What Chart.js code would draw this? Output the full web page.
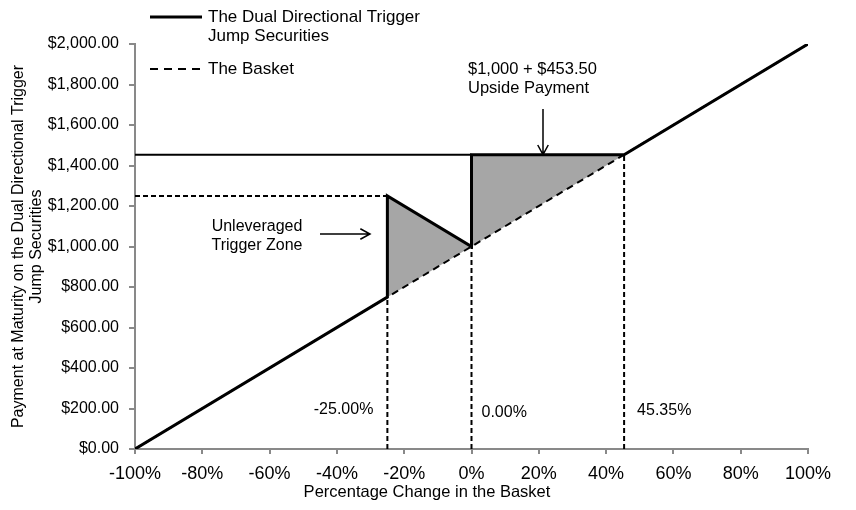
<!DOCTYPE html>
<html>
<head>
<meta charset="utf-8">
<script src="https://cdn.jsdelivr.net/npm/chart.js@4.4.1/dist/chart.umd.min.js"></script>
<style>
  html, body { margin: 0; padding: 0; background: #fff; overflow: hidden; }
  #chartPayoff { display: block; }
</style>
</head>
<body>
<canvas id="chartPayoff" width="856" height="510"></canvas>
<script>
// Datos del grafico
const cambioPct = [-100, -25, -25, 0, 0, 45.35, 100];
const pagoNota = [0, 750, 1250, 1000, 1453.5, 1453.5, 2000];

const canastaPct = [-100, 100];
const canastaPago = [0, 2000];

const zonaTriggerPct = [-25, -25, 0];
const zonaTriggerPago = [750, 1250, 1000];

const zonaUpsidePct = [0, 0, 45.35];
const zonaUpsidePago = [1000, 1453.5, 1453.5];

const nivelTope = 1453.5;
const nivelTrigger = 1250;

const marcasPct = [-25, 0, 45.35];
const marcasPago = [750, 1000, 1453.5];
const marcasEtiquetas = ['-25.00%', '0.00%', '45.35%'];

const ticksX = [-100, -80, -60, -40, -20, 0, 20, 40, 60, 80, 100];
const ticksY = [0, 200, 400, 600, 800, 1000, 1200, 1400, 1600, 1800, 2000];

const leyenda = [['The Dual Directional Trigger', 'Jump Securities'], ['The Basket']];
const notaTrigger = ['Unleveraged', 'Trigger Zone'];
const notaUpside = ['$1,000 + $453.50', 'Upside Payment'];
const tituloX = 'Percentage Change in the Basket';

const FUENTE = '"Liberation Sans", Arial, sans-serif';
const GRIS_EJE = '#898989';
const GRIS_ZONA = '#a6a6a6';

const puntos = (xs, ys) => xs.map((x, i) => ({ x: x, y: ys[i] }));

const datasets = [
    {
        label: 'zona trigger',
        data: puntos(zonaTriggerPct, zonaTriggerPago),
        backgroundColor: GRIS_ZONA,
        borderWidth: 0,
        fill: 'shape',
        order: 10
    },
    {
        label: 'zona upside',
        data: puntos(zonaUpsidePct, zonaUpsidePago),
        backgroundColor: GRIS_ZONA,
        borderWidth: 0,
        fill: 'shape',
        order: 10
    },
    {
        label: 'The Basket',
        data: puntos(canastaPct, canastaPago),
        borderColor: '#000',
        borderWidth: 2,
        borderDash: [7, 5],
        order: 5
    },
    {
        label: 'tope',
        data: puntos([cambioPct[0], 0], [nivelTope, nivelTope]),
        borderColor: '#000',
        borderWidth: 2,
        order: 4
    },
    {
        label: 'trigger',
        data: puntos([cambioPct[0], -25], [nivelTrigger, nivelTrigger]),
        borderColor: '#000',
        borderWidth: 2,
        borderDash: [5, 3],
        order: 4
    }
];

// Lineas verticales punteadas en cada marca
marcasPct.forEach((p, i) => {
    datasets.push({
        label: 'marca ' + marcasEtiquetas[i],
        data: puntos([p, p], [0, marcasPago[i]]),
        borderColor: '#000',
        borderWidth: 2,
        borderDash: [5, 3],
        order: 4
    });
});

datasets.push({
    label: 'The Dual Directional Trigger Jump Securities',
    data: puntos(cambioPct, pagoNota),
    borderColor: '#000',
    borderWidth: 3,
    borderJoinStyle: 'miter',
    order: 1
});

// Plugin para leyenda y anotaciones
const anotaciones = {
    id: 'anotaciones',
    afterDraw(chart) {
        const ctx = chart.ctx;
        const sx = chart.scales.x;
        const sy = chart.scales.y;
        ctx.save();
        ctx.fillStyle = '#000';
        ctx.strokeStyle = '#000';
        ctx.textBaseline = 'middle';

        // Leyenda
        ctx.font = '17px ' + FUENTE;
        ctx.lineWidth = 3;
        ctx.beginPath();
        ctx.moveTo(150, 17);
        ctx.lineTo(202, 17);
        ctx.stroke();
        ctx.textAlign = 'left';
        ctx.fillText(leyenda[0][0], 208, 17);
        ctx.fillText(leyenda[0][1], 208, 36);
        ctx.lineWidth = 2;
        ctx.setLineDash([8, 6]);
        ctx.beginPath();
        ctx.moveTo(150, 69);
        ctx.lineTo(202, 69);
        ctx.stroke();
        ctx.setLineDash([]);
        ctx.fillText(leyenda[1][0], 208, 69);

        // Titulo del eje X
        ctx.font = '16.5px ' + FUENTE;
        ctx.textAlign = 'center';
        ctx.fillText(tituloX, 427, 492);

        // Zona trigger
        ctx.font = '16px ' + FUENTE;
        ctx.fillText(notaTrigger[0], 257, 227);
        ctx.fillText(notaTrigger[1], 257, 246);
        flecha(ctx, 320, 234, 370, 234);

        // Pago upside
        ctx.font = '16.5px ' + FUENTE;
        ctx.textAlign = 'left';
        ctx.fillText(notaUpside[0], 468, 69);
        ctx.fillText(notaUpside[1], 468, 88);
        flecha(ctx, 543, 109, 543, sy.getPixelForValue(nivelTope));

        // Etiquetas de las marcas
        ctx.font = '16px ' + FUENTE;
        ctx.textAlign = 'right';
        ctx.fillText(marcasEtiquetas[0], sx.getPixelForValue(marcasPct[0]) - 14, 410);
        ctx.textAlign = 'left';
        ctx.fillText(marcasEtiquetas[1], sx.getPixelForValue(marcasPct[1]) + 10, 413);
        ctx.fillText(marcasEtiquetas[2], sx.getPixelForValue(marcasPct[2]) + 13, 411);
        ctx.restore();
    }
};

function flecha(ctx, x1, y1, x2, y2) {
    const ang = Math.atan2(y2 - y1, x2 - x1);
    const largo = 11;
    ctx.lineWidth = 1.5;
    ctx.beginPath();
    ctx.moveTo(x1, y1);
    ctx.lineTo(x2, y2);
    ctx.moveTo(x2 - largo * Math.cos(ang - 0.5), y2 - largo * Math.sin(ang - 0.5));
    ctx.lineTo(x2, y2);
    ctx.lineTo(x2 - largo * Math.cos(ang + 0.5), y2 - largo * Math.sin(ang + 0.5));
    ctx.stroke();
}

new Chart(document.getElementById('chartPayoff').getContext('2d'), {
    type: 'scatter',
    data: { datasets: datasets },
    options: {
        responsive: false,
        animation: false,
        devicePixelRatio: 1,
        showLine: true,
        elements: {
            point: { radius: 0, hoverRadius: 0 },
            line: { tension: 0 }
        },
        layout: { padding: { left: 0, right: 48, top: 44, bottom: 0 } },
        plugins: {
            legend: { display: false },
            tooltip: { enabled: false }
        },
        scales: {
            x: {
                type: 'linear',
                min: -100,
                max: 100,
                afterBuildTicks: s => { s.ticks = ticksX.map(v => ({ value: v })); },
                afterFit: s => { s.height = 61; },
                border: { display: true, color: GRIS_EJE, width: 2 },
                grid: { drawOnChartArea: false, drawTicks: true, tickLength: 5, color: GRIS_EJE, lineWidth: 2 },
                ticks: {
                    autoSkip: false,
                    maxRotation: 0,
                    padding: 9,
                    color: '#000',
                    font: { family: FUENTE, size: 18 },
                    callback: v => v + '%'
                },
                title: { display: false }
            },
            y: {
                type: 'linear',
                min: 0,
                max: 2000,
                afterBuildTicks: s => { s.ticks = ticksY.map(v => ({ value: v })); },
                afterFit: s => { s.width = 135; },
                border: { display: true, color: GRIS_EJE, width: 2 },
                grid: { drawOnChartArea: false, drawTicks: true, tickLength: 6, color: GRIS_EJE, lineWidth: 2 },
                ticks: {
                    padding: 10,
                    color: '#000',
                    font: { family: FUENTE, size: 16 },
                    callback: v => '$' + v.toLocaleString('en-US', { minimumFractionDigits: 2, maximumFractionDigits: 2 })
                },
                title: {
                    display: true,
                    text: ['Payment at Maturity on the Dual Directional Trigger', 'Jump Securities'],
                    color: '#000',
                    font: { family: FUENTE, size: 16, lineHeight: 1.15 },
                    padding: { top: 9, bottom: 0 }
                }
            }
        }
    },
    plugins: [anotaciones]
});
</script>
</body>
</html>
